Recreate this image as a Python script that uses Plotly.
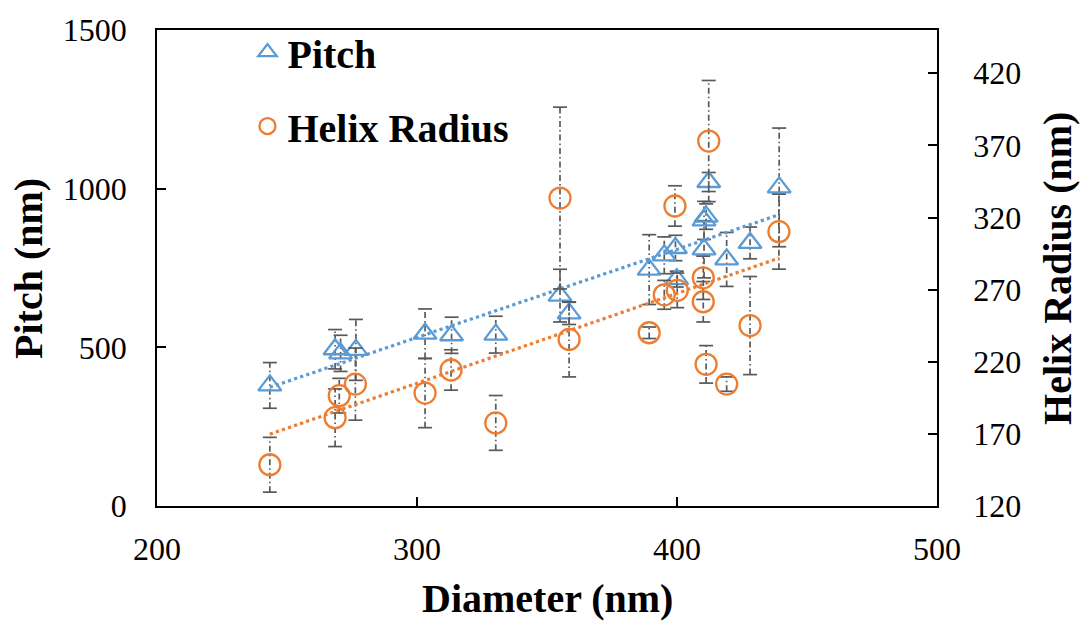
import plotly.graph_objects as go

# ---------------- data ----------------
pitch_diam = [243.4, 268.5, 270.6, 276.5, 303.1, 313.3, 330.3, 355.0, 358.5, 389.3,
              395.1, 399.4, 399.9, 410.4, 410.4, 411.2, 412.2, 419.1, 428.1, 439.3]
pitch_nm = [380, 494, 481, 492, 543, 538, 540, 663, 607, 745,
            790, 813, 715, 809, 900, 912, 1021, 777, 829, 1004]
pitch_err = [72, 62, 57, 96, 78, 57, 58, 83, 35, 110,
             58, 40, 25, 90, 60, 40, 30, 85, 50, 187]

radius_diam = [243.4, 268.5, 270.1, 276.3, 303.1, 313.1, 330.3, 355.0, 358.5, 389.3,
               395.1, 399.2, 400.1, 410.1, 410.1, 411.2, 412.2, 419.1, 428.1, 439.2]
radius_nm = [148.6, 181.2, 196.5, 204.5, 198.3, 214.3, 177.6, 333.5, 235.5, 240.1,
             266.4, 328.0, 269.5, 278.2, 261.6, 218.2, 373.0, 204.5, 245.1, 310.2]
radius_err = [19, 20, 12, 25, 24, 14, 19, 63, 26, 4,
              10, 14, 12, 15, 14, 13, 42, 5, 34, 26]

# linear trendline end points
trend_diam = [243.4, 439.3]
pitch_trend = [374, 918]
radius_trend = [169.8, 291.9]

x_ticks = [200, 300, 400, 500]
pitch_ticks = [0, 500, 1000, 1500]
radius_ticks = [120, 170, 220, 270, 320, 370, 420]

# ---------------- style ----------------
BLUE = "#5B9BD5"
ORANGE = "#ED7D31"
GRAY = "#595959"
FONT = "Liberation Serif, Times New Roman, serif"


def err_segments(xs, ys, es):
    sx, sy, cx, cy = [], [], [], []
    for x, y, e in zip(xs, ys, es):
        sx += [x, x, None]
        sy += [y - e, y + e, None]
        cx += [x, x]
        cy += [y - e, y + e]
    return sx, sy, cx, cy


fig = go.Figure()

for xs, ys, es, ax in [(pitch_diam, pitch_nm, pitch_err, "y"),
                       (radius_diam, radius_nm, radius_err, "y2")]:
    sx, sy, cx, cy = err_segments(xs, ys, es)
    fig.add_trace(go.Scatter(x=sx, y=sy, yaxis=ax, mode="lines", showlegend=False,
                             hoverinfo="skip",
                             line=dict(color=GRAY, width=1.7, dash="6px,3px,1.5px,3px")))
    fig.add_trace(go.Scatter(x=cx, y=cy, yaxis=ax, mode="markers", showlegend=False,
                             hoverinfo="skip",
                             marker=dict(symbol="line-ew", size=10,
                                         line=dict(color=GRAY, width=1.7))))

fig.add_trace(go.Scatter(x=trend_diam, y=pitch_trend, mode="lines", showlegend=False,
                         line=dict(color=BLUE, width=3.2, dash="dot")))
fig.add_trace(go.Scatter(x=trend_diam, y=radius_trend, yaxis="y2", mode="lines",
                         showlegend=False,
                         line=dict(color=ORANGE, width=3.2, dash="dot")))

fig.add_trace(go.Scatter(x=pitch_diam, y=pitch_nm, mode="markers", name="Pitch",
                         legendgroup="a",
                         marker=dict(symbol="triangle-up-open", size=20,
                                     color=BLUE, line=dict(color=BLUE, width=2.3))))
fig.add_trace(go.Scatter(x=radius_diam, y=radius_nm, yaxis="y2", mode="markers",
                         name="Helix Radius", legendgroup="b",
                         marker=dict(symbol="circle-open", size=21,
                                     color=ORANGE, line=dict(color=ORANGE, width=2.3))))

axis_common = dict(showgrid=False, zeroline=False, showline=True, linecolor="black",
                   linewidth=1.5, ticks="inside", ticklen=9, tickwidth=1.5,
                   tickcolor="black", tickfont=dict(family=FONT, size=32, color="black"))

fig.update_layout(
    width=1080, height=623,
    margin=dict(l=157, r=143, t=24, b=117),
    plot_bgcolor="white", paper_bgcolor="white",
    font=dict(family=FONT, color="black"),
    xaxis=dict(range=[200, 500], tickvals=x_ticks, mirror=True,
               ticklabelstandoff=14, **axis_common),
    yaxis=dict(range=[0, 1500], tickvals=pitch_ticks, ticklabelstandoff=22,
               **axis_common),
    yaxis2=dict(range=[120, 450], tickvals=radius_ticks, overlaying="y", side="right",
                ticklabelstandoff=28, **axis_common),
    legend=dict(x=0.116, y=1.022, xanchor="left", yanchor="top",
                bgcolor="rgba(0,0,0,0)", tracegroupgap=19,
                font=dict(family=FONT, size=40, color="black", weight="bold")),
    showlegend=True,
    annotations=[
        dict(text="<b>Diameter (nm)</b>", xref="paper", yref="paper", x=0.5, y=-0.195,
             showarrow=False, font=dict(family=FONT, size=40, color="black"),
             xanchor="center", yanchor="middle"),
        dict(text="<b>Pitch (nm)</b>", xref="paper", yref="paper", x=-0.1654, y=0.5,
             showarrow=False, textangle=-90,
             font=dict(family=FONT, size=40, color="black"),
             xanchor="center", yanchor="middle"),
        dict(text="<b>Helix Radius (nm)</b>", xref="paper", yref="paper", x=1.1538,
             y=0.5, showarrow=False, textangle=-90,
             font=dict(family=FONT, size=40, color="black"),
             xanchor="center", yanchor="middle"),
    ],
)

fig.write_html("out.html")
